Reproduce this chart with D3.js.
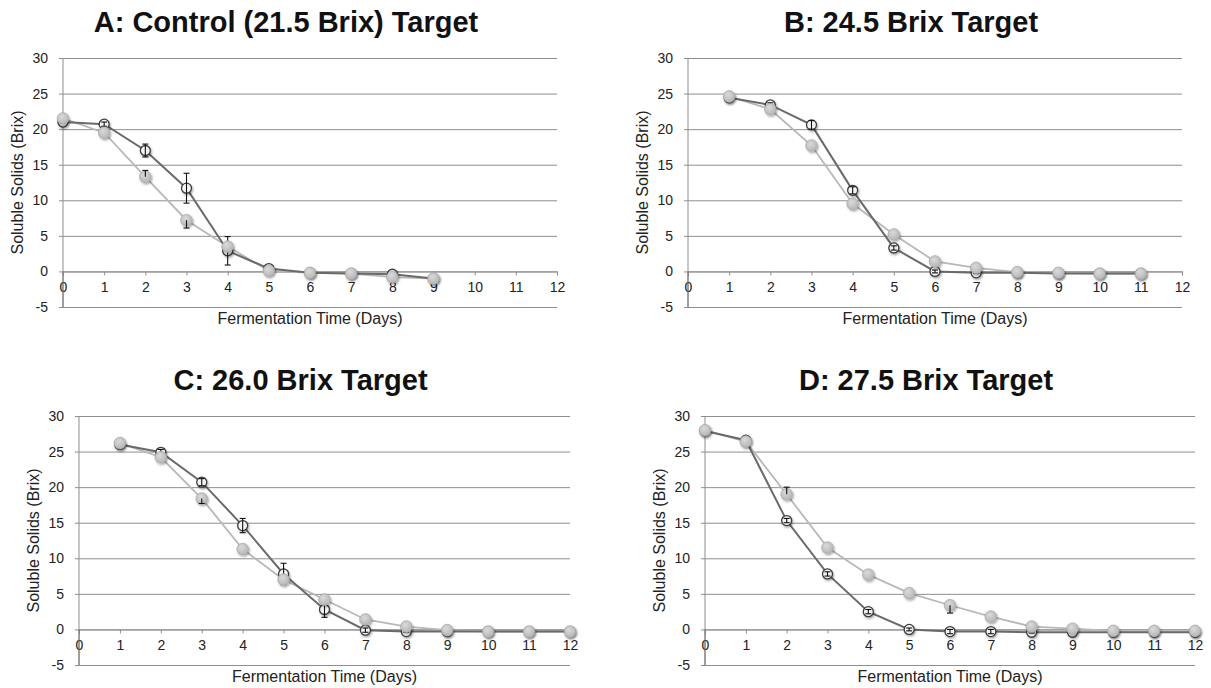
<!DOCTYPE html>
<html>
<head>
<meta charset="utf-8">
<script src="https://cdn.jsdelivr.net/npm/d3@7"></script>
<style>
  html, body { margin: 0; padding: 0; background: #fff; }
  svg { display: block; font-family: "Liberation Sans", Arial, Helvetica, sans-serif; }
</style>
</head>
<body>
<svg id="chart" width="1211" height="688"></svg>
<script>
// Axis ticks shared by all four panels
const xTicks = [0, 1, 2, 3, 4, 5, 6, 7, 8, 9, 10, 11, 12];
const yTicks = [-5, 0, 5, 10, 15, 20, 25, 30];

// Panel titles
const titles = [
  "A: Control (21.5 Brix) Target",
  "B: 24.5 Brix Target",
  "C: 26.0 Brix Target",
  "D: 27.5 Brix Target"
];
const xAxisTitle = "Fermentation Time (Days)";
const yAxisTitle = "Soluble Solids (Brix)";

// A: Control (21.5 Brix)
const aDays      = [0, 1, 2, 3, 4, 5, 6, 7, 8, 9];
const aDark      = [21.0, 20.7, 17.0, 11.7, 2.9, 0.4, -0.2, -0.3, -0.4, -1.0];
const aDarkErr   = [0.2, 0.3, 0.9, 2.1, 2.0, 0.2, 0.1, 0.1, 0.1, 0.1];
const aLight     = [21.5, 19.5, 13.3, 7.2, 3.5, 0.1, -0.2, -0.3, -0.8, -1.0];
const aLightUp   = [0, 0, 0.9, 0, 0, 0, 0, 0, 0, 0];
const aLightDown = [0, 0, 0, 1.1, 0, 0, 0, 0, 0, 0];

// B: 24.5 Brix
const bDays      = [1, 2, 3, 4, 5, 6, 7, 8, 9, 10, 11];
const bDark      = [24.4, 23.4, 20.6, 11.4, 3.3, 0.0, -0.2, -0.2, -0.3, -0.3, -0.3];
const bDarkErr   = [0.2, 0.3, 0.6, 0.5, 0.3, 0.2, 0.1, 0.1, 0.1, 0.1, 0.1];
const bLight     = [24.6, 22.8, 17.7, 9.5, 5.2, 1.4, 0.5, -0.1, -0.2, -0.3, -0.3];
const bLightUp   = [0, 0, 0, 0, 0, 0, 0, 0, 0, 0, 0];
const bLightDown = [0, 0, 0, 0, 0, 0, 0, 0, 0, 0, 0];

// C: 26.0 Brix
const cDays      = [1, 2, 3, 4, 5, 6, 7, 8, 9, 10, 11, 12];
const cDark      = [26.0, 24.9, 20.7, 14.6, 7.8, 2.8, -0.1, -0.3, -0.3, -0.3, -0.3, -0.3];
const cDarkErr   = [0.2, 0.4, 0.5, 1.0, 1.5, 1.1, 0.3, 0.1, 0.1, 0.1, 0.1, 0.1];
const cLight     = [26.2, 24.2, 18.4, 11.3, 7.0, 4.2, 1.4, 0.4, -0.1, -0.3, -0.3, -0.3];
const cLightUp   = [0, 0, 0, 0, 0, 0, 0, 0, 0, 0, 0, 0];
const cLightDown = [0, 0, 0.7, 0, 0, 0, 0, 0, 0, 0, 0, 0];

// D: 27.5 Brix
const dDays      = [0, 1, 2, 3, 4, 5, 6, 7, 8, 9, 10, 11, 12];
const dDark      = [27.9, 26.6, 15.3, 7.8, 2.5, 0.0, -0.3, -0.3, -0.4, -0.4, -0.4, -0.4, -0.4];
const dDarkErr   = [0.2, 0.2, 0.3, 0.3, 0.3, 0.2, 0.3, 0.3, 0.1, 0.1, 0.1, 0.1, 0.1];
const dLight     = [28.0, 26.4, 19.0, 11.5, 7.7, 5.1, 3.4, 1.8, 0.4, 0.1, -0.2, -0.2, -0.2];
const dLightUp   = [0, 0, 1.0, 0, 0, 0, 0, 0, 0, 0, 0, 0, 0];
const dLightDown = [0, 0, 0, 0, 0, 0, 1.1, 0, 0, 0, 0, 0, 0];

// Panel placement (plot frame in pixels)
const frames = [
  { x0: 63,  x1: 557,  y0: 58,  y1: 307 },
  { x0: 688, x1: 1182, y0: 58,  y1: 307 },
  { x0: 79,  x1: 570,  y0: 416, y1: 665 },
  { x0: 705, x1: 1195, y0: 416, y1: 665 }
];

const zip = (days, vals, up, down) =>
  days.map((d, i) => ({ day: d, v: vals[i], up: up[i], down: down[i] }));

const panels = [
  { dark: zip(aDays, aDark, aDarkErr, aDarkErr), light: zip(aDays, aLight, aLightUp, aLightDown) },
  { dark: zip(bDays, bDark, bDarkErr, bDarkErr), light: zip(bDays, bLight, bLightUp, bLightDown) },
  { dark: zip(cDays, cDark, cDarkErr, cDarkErr), light: zip(cDays, cLight, cLightUp, cLightDown) },
  { dark: zip(dDays, dDark, dDarkErr, dDarkErr), light: zip(dDays, dLight, dLightUp, dLightDown) }
];

// plain hyphen for negatives, as in the original spreadsheet labels
const fmt = d => String(d);

const svg = d3.select("#chart");
svg.append("rect").attr("width", 1211).attr("height", 688).attr("fill", "#fff");

const defs = svg.append("defs");
const shadow = defs.append("filter").attr("id", "mshadow")
  .attr("x", "-50%").attr("y", "-50%").attr("width", "200%").attr("height", "200%");
shadow.append("feDropShadow").attr("dx", 1).attr("dy", 1.5)
  .attr("stdDeviation", 1.1).attr("flood-color", "#000").attr("flood-opacity", 0.35);
const grad = defs.append("radialGradient").attr("id", "lightFill")
  .attr("cx", "40%").attr("cy", "35%").attr("r", "65%");
grad.append("stop").attr("offset", "0%").attr("stop-color", "#dadada");
grad.append("stop").attr("offset", "100%").attr("stop-color", "#b6b6b6");

const gridColor = "#8e8e8e";

function errorBars(sel, data, x, y) {
  data.filter(d => d.up > 0 || d.down > 0).forEach(d => {
    const cx = x(d.day);
    const top = y(d.v + d.up), bot = y(d.v - d.down);
    sel.append("line").attr("x1", cx).attr("x2", cx).attr("y1", top).attr("y2", bot);
    if (d.up > 0) sel.append("line").attr("x1", cx - 3).attr("x2", cx + 3).attr("y1", top).attr("y2", top);
    if (d.down > 0) sel.append("line").attr("x1", cx - 3).attr("x2", cx + 3).attr("y1", bot).attr("y2", bot);
  });
}

panels.forEach((p, k) => {
  const f = frames[k];
  const x = d3.scaleLinear().domain([0, 12]).range([f.x0, f.x1]);
  const y = d3.scaleLinear().domain([-5, 30]).range([f.y1, f.y0]);
  const g = svg.append("g");

  // Title
  g.append("text")
    .attr("x", (f.x0 + f.x1) / 2 - 24)
    .attr("y", f.y0 - 26)
    .attr("text-anchor", "middle")
    .attr("font-size", 29)
    .attr("font-weight", "bold")
    .attr("fill", "#111")
    .text(titles[k]);

  // Horizontal gridlines with y labels
  const yAxis = d3.axisLeft(y).tickValues(yTicks).tickSize(-(f.x1 - f.x0) - 4)
    .tickFormat(fmt).tickPadding(11);
  const ya = g.append("g").attr("transform", `translate(${f.x0 - 4},0)`).call(yAxis);
  ya.select(".domain").remove();
  ya.selectAll(".tick line").attr("stroke", gridColor).attr("stroke-width", 1);
  ya.selectAll(".tick text")
    .attr("font-size", 14).attr("fill", "#222")
    .attr("font-family", "'Liberation Sans', Arial, sans-serif");

  // Vertical axis line at day 0
  g.append("line")
    .attr("x1", x(0)).attr("x2", x(0))
    .attr("y1", y(30)).attr("y2", y(-5))
    .attr("stroke", gridColor).attr("stroke-width", 1);

  // Day axis along the zero line
  const xAxis = d3.axisBottom(x).tickValues(xTicks).tickSize(4).tickPadding(7)
    .tickFormat(fmt);
  const xa = g.append("g").attr("transform", `translate(0,${y(0)})`).call(xAxis);
  xa.select(".domain").attr("stroke", gridColor);
  xa.selectAll(".tick line").attr("stroke", gridColor);
  xa.selectAll(".tick text")
    .attr("font-size", 14).attr("fill", "#222")
    .attr("font-family", "'Liberation Sans', Arial, sans-serif");
  // the day-0 label sits under the vertical axis line
  g.append("line")
    .attr("x1", x(0)).attr("x2", x(0))
    .attr("y1", y(0)).attr("y2", y(-5))
    .attr("stroke", "#777").attr("stroke-width", 1);

  // Axis titles
  g.append("text")
    .attr("x", (f.x0 + f.x1) / 2)
    .attr("y", f.y1 + 17)
    .attr("text-anchor", "middle")
    .attr("font-size", 16).attr("fill", "#222")
    .text(xAxisTitle);
  g.append("text")
    .attr("transform", `translate(${f.x0 - 40},${(f.y0 + f.y1) / 2}) rotate(-90)`)
    .attr("text-anchor", "middle")
    .attr("font-size", 16).attr("fill", "#222")
    .text(yAxisTitle);

  const line = d3.line().x(d => x(d.day)).y(d => y(d.v));

  // Series lines
  g.append("path").datum(p.light).attr("d", line)
    .attr("fill", "none").attr("stroke", "#b8b8b8").attr("stroke-width", 1.8);
  g.append("path").datum(p.dark).attr("d", line)
    .attr("fill", "none").attr("stroke", "#6a6a6a").attr("stroke-width", 2);

  // Dark series: open circles with their error bars
  g.append("g").selectAll("circle").data(p.dark).join("circle")
    .attr("cx", d => x(d.day)).attr("cy", d => y(d.v)).attr("r", 5)
    .attr("fill", "#f4f4f4").attr("stroke", "#3a3a3a").attr("stroke-width", 1.3)
    .attr("filter", "url(#mshadow)");
  errorBars(g.append("g").attr("stroke", "#111").attr("stroke-width", 1.1), p.dark, x, y);

  // Light series: filled circles, then their error bars
  g.append("g").selectAll("circle").data(p.light).join("circle")
    .attr("cx", d => x(d.day)).attr("cy", d => y(d.v)).attr("r", 5.8)
    .attr("fill", "url(#lightFill)").attr("stroke", "#a9a9a9").attr("stroke-width", 0.8)
    .attr("filter", "url(#mshadow)");
  errorBars(g.append("g").attr("stroke", "#111").attr("stroke-width", 1.1), p.light, x, y);
});
</script>
</body>
</html>
